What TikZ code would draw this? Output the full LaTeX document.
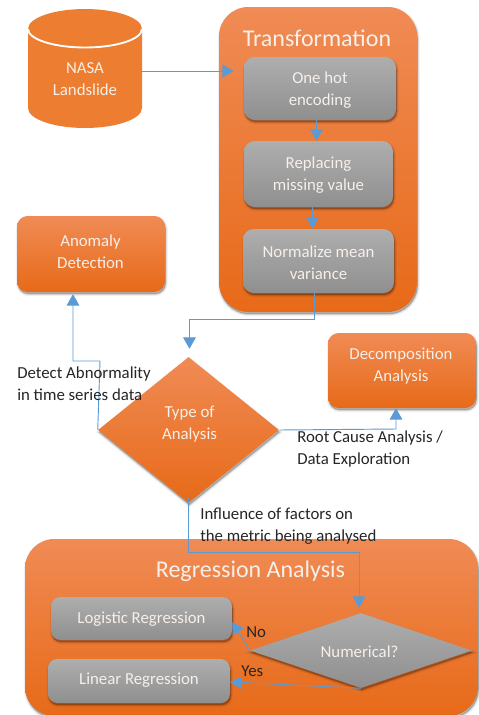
\documentclass[tikz,border=0pt]{standalone}
\usepackage{fontspec}
\setmainfont{Carlito}
\usetikzlibrary{shapes.geometric,arrows.meta,shadows}
\def\u{0.75pt}
\definecolor{orT}{HTML}{F08B55}
\definecolor{orM}{HTML}{F47A28}
\definecolor{orB}{HTML}{E76A18}
\definecolor{grT}{HTML}{AEAEAE}
\definecolor{grB}{HTML}{8F8F8F}
\definecolor{flowc}{HTML}{5B9BD5}
\definecolor{cyl}{HTML}{ED7D31}
\definecolor{txtl}{HTML}{F6EFEA}
\definecolor{txtd}{HTML}{262626}
\tikzset{
  softshadow/.style={
    general shadow={fill=black,draw=black,line width=3pt,opacity=.05,shadow xshift=.6pt,shadow yshift=-1.6pt},
    general shadow={fill=black,draw=black,line width=1.5pt,opacity=.09,shadow xshift=.6pt,shadow yshift=-1.6pt},
    general shadow={fill=black,opacity=.14,shadow xshift=.6pt,shadow yshift=-1.6pt}},
  orangefill/.style={top color=orT,middle color=orM,bottom color=orB,draw=none},
  grayfill/.style={top color=grT,bottom color=grB,draw=none},
  box/.style={rectangle,inner sep=0pt,softshadow},
  sized/.style 2 args={minimum width=#1*\u,minimum height=#2*\u},
  flow/.style={draw=flowc,line width=.7pt,-{Triangle[length=8.5pt,width=9.5pt]}},
  lab/.style={font=\fontsize{12.6}{16.5}\selectfont,align=center,text=txtl,inner sep=0pt,yshift=-.75pt},
  note/.style={font=\fontsize{12.6}{16.5}\selectfont,align=left,text=txtd,inner sep=0pt,anchor=west},
  head/.style={font=\fontsize{18}{21}\selectfont,text=txtl,inner sep=0pt},
}
\begin{document}
\begin{tikzpicture}[x=0.75pt,y=-0.75pt]
\useasboundingbox (0,0) rectangle (479,715);
\fill[white] (0,0) rectangle (479,715);
% cylinder
\fill[cyl]
  (28,29) arc[start angle=180,end angle=360,x radius=57,y radius=20]
  -- (142,108) arc[start angle=0,end angle=180,x radius=57,y radius=20] -- cycle;
\draw[white,line width=1.4pt] (28,29) arc[start angle=180,end angle=0,x radius=57,y radius=18.5];
\node[inner sep=0pt,sized={114}{119}] (nasa) at (85,68.5) {};
% containers
\node[box,orangefill,rounded corners=22pt,sized={198}{305}] (transform) at (318,159.5) {};
\node[box,orangefill,rounded corners=22pt,sized={453}{177}] (regress) at (251.5,627.5) {};
% inner boxes
\node[box,grayfill,rounded corners=8pt,sized={152}{63}] (onehot) at (320,88.5) {};
\node[box,grayfill,rounded corners=8pt,sized={149}{66}] (replace) at (318.5,174) {};
\node[box,grayfill,rounded corners=8pt,sized={151}{64}] (normal) at (318.5,261) {};
\node[box,orangefill,rounded corners=8pt,sized={148}{76}] (anomaly) at (91,254) {};
\node[box,orangefill,rounded corners=8pt,sized={148}{75}] (decomp) at (402,370.5) {};
\node[box,grayfill,rounded corners=7pt,sized={181}{43}] (logistic) at (141.5,618.5) {};
\node[box,grayfill,rounded corners=7pt,sized={182}{44}] (linear) at (139,681) {};
% diamonds
\node[diamond,inner sep=0pt,orangefill,softshadow,aspect=1.24,sized={181}{146}] (type) at (188.5,430) {};
\node[diamond,inner sep=0pt,grayfill,softshadow,aspect=2.96,sized={222}{75}] (numeric) at (361,650.5) {};
% connectors
\draw[flow,shorten >=10*\u] (nasa.east |- 0,71) -- (onehot.west |- 0,71);
\draw[flow] (onehot.south -| 316.5,0) -- (replace.north -| 316.5,0);
\draw[flow] (replace.south -| 312.5,0) -- (normal.north -| 312.5,0);
\draw[flow,shorten >=8*\u] (normal.south -| 314,0) -- (314,319) -- (189.5,319) -- (type.north -| 189.5,0);
\draw[flow,shorten >=2*\u] (type.west) -- (100,361) -- (73,361) -- (anomaly.south -| 73,0);
\draw[flow] (type.east) -- (396,429) -- (decomp.south -| 396,0);
\draw[flow,shorten >=5*\u] (188,497) -- (188,552) -- (359,552) -- (numeric.north -| 359,0);
\draw[flow] (numeric.west) -- (logistic.east |- 0,622);
\draw[flow] (numeric.south) -- (linear.east |- 0,682);
% texts
\node[lab] (nasat) at (85,78.5) {NASA\\Landslide};
\node[head] (transt) at (317,38.5) {Transformation};
\node[lab] (onet) at (320,89.5) {One hot\\encoding};
\node[lab] (rept) at (318.5,174.5) {Replacing\\missing value};
\node[lab] (normt) at (318.5,262) {Normalize mean\\variance};
\node[lab] (anot) at (90.5,250.5) {Anomaly\\Detection};
\node[lab] (dect) at (401,365.5) {Decomposition\\Analysis};
\node[lab] (typet) at (189.5,423.5) {Type of\\Analysis};
\node[head] (regt) at (250.5,571.5) {Regression Analysis};
\node[lab] (logt) at (141.5,618) {Logistic Regression};
\node[lab] (lint) at (139,679.5) {Linear Regression};
\node[lab] (numt) at (359.5,650.5) {Numerical?};
\node[note] (n1) at (17,383.5) {Detect Abnormality\\in time series data};
\node[note] (n2) at (297,449) {Root Cause Analysis /\\Data Exploration};
\node[note] (n3) at (200,526.5) {Influence of factors on\\the metric being analysed};
\node[note] (n4) at (246,632.5) {No};
\node[note] (n5) at (241,671.5) {Yes};
\end{tikzpicture}
\end{document}
